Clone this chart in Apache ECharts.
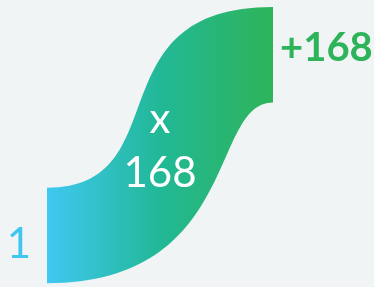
<!DOCTYPE html>
<html>
<head>
<meta charset="utf-8">
<script src="https://cdn.jsdelivr.net/npm/echarts@6/dist/echarts.min.js"></script>
<style>
  html, body { margin: 0; padding: 0; background: #f0f4f4; }
  #main { width: 374px; height: 287px; }
</style>
</head>
<body>
<div id="main"></div>
<script>
// start and end of the flow, plus the multiplier shown in the ribbon
var stepNames = ['1', '+168'];
var stepValues = [1, 168];
var factorText = ['x', '168'];

var font = 'Lato, "Open Sans", sans-serif';

function renderRibbon(params, api) {
  var p0 = api.coord([api.value(0), api.value(1)]);
  var p1 = api.coord([api.value(2), api.value(3)]);
  var h = 47.75; // half thickness
  var w = p1[0] - p0[0];
  var x0 = p0[0], y0 = p0[1], x1 = p1[0], y1 = p1[1];
  var d = 'M' + x0 + ' ' + (y0 - h) +
    ' C' + (x0 + 0.593 * w) + ' ' + (y0 - h) + ' ' + (x1 - 0.805 * w) + ' ' + (y1 - h) + ' ' + x1 + ' ' + (y1 - h) +
    ' L' + x1 + ' ' + (y1 + h) +
    ' C' + (x1 - 0.281 * w) + ' ' + (y1 + h) + ' ' + (x0 + 0.858 * w) + ' ' + (y0 + h) + ' ' + x0 + ' ' + (y0 + h) +
    ' Z';
  var mx = (x0 + x1) / 2, my = (y0 + y1) / 2;
  return {
    type: 'group',
    children: [
      {
        type: 'path',
        shape: { pathData: d },
        style: {
          fill: new echarts.graphic.LinearGradient(0, 0, 1, 0, [
            { offset: 0, color: '#40c8f1' },
            { offset: 0.5, color: '#21b896' },
            { offset: 1, color: '#2eb459' }
          ])
        }
      },
      {
        type: 'text',
        style: {
          text: stepNames[0], x: x0 - 28, y: y0 + 9,
          fill: '#40c6ef', font: 'normal 42px ' + font,
          textAlign: 'center', textVerticalAlign: 'middle'
        }
      },
      {
        type: 'text',
        style: {
          text: stepNames[1], x: x1 + 7, y: y1 - 7,
          fill: '#2db35a', font: 'bold 40px ' + font,
          textAlign: 'left', textVerticalAlign: 'middle'
        }
      },
      {
        type: 'text',
        style: {
          text: factorText[0], x: mx, y: my - 26,
          fill: '#ffffff', font: 'normal 42px ' + font,
          textAlign: 'center', textVerticalAlign: 'middle'
        }
      },
      {
        type: 'text',
        style: {
          text: factorText[1], x: mx, y: my + 28,
          fill: '#ffffff', font: 'normal 42px ' + font,
          textAlign: 'center', textVerticalAlign: 'middle'
        }
      }
    ]
  };
}

var chart = echarts.init(document.getElementById('main'));
chart.setOption({
  backgroundColor: '#f0f4f4',
  animation: false,
  grid: { left: 47, right: 101, top: 6, bottom: 4 },
  xAxis: { type: 'value', min: 0, max: 1, show: false },
  yAxis: { type: 'value', min: -43, max: 213, show: false },
  series: [
    {
      type: 'custom',
      renderItem: renderRibbon,
      data: [[0, stepValues[0], 1, stepValues[1]]]
    }
  ]
});
</script>
</body>
</html>
